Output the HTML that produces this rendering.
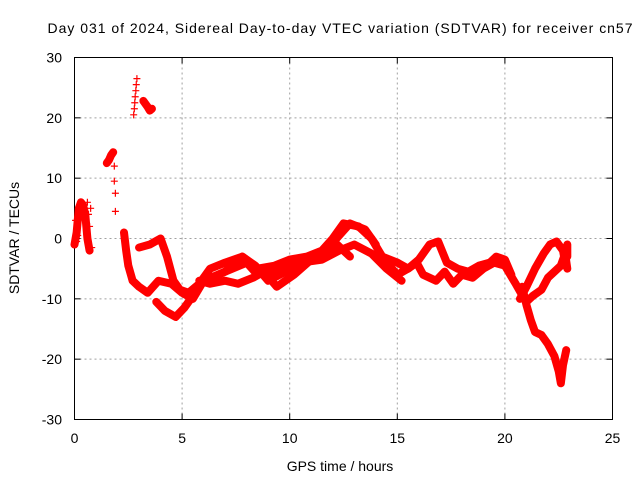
<!DOCTYPE html>
<html><head><meta charset="utf-8"><style>
html,body{margin:0;padding:0;background:#fff}
svg{display:block;font-family:"Liberation Sans",sans-serif}
</style></head><body>
<svg id="chart" width="640" height="480" viewBox="0 0 640 480">
<text x="340" y="33" text-anchor="middle" font-size="14" textLength="585">Day 031 of 2024, Sidereal Day-to-day VTEC variation (SDTVAR) for receiver cn57</text>
<g id="grid"></g>
<g id="axes"></g>
<g id="series"></g>
<text x="340" y="471" text-anchor="middle" font-size="14">GPS time / hours</text>
<text transform="translate(19,238) rotate(-90)" text-anchor="middle" font-size="14">SDTVAR / TECUs</text>
</svg>
<script>
const xTicks=[0,5,10,15,20,25];
const yTicks=[-30,-20,-10,0,10,20,30];
// each track: times (hours) and values (TECU)
const trackA_t=[0,0.1,0.2,0.3,0.4,0.5,0.55,0.6,0.65,0.7];
const trackA_v=[-1,1,5,6,5.5,4,2,0,-1,-2];
const trackA2_t=[0.05,0.1,0.15,0.6,0.65,0.7,0.75,0.8];
const trackA2_v=[3,-0.5,0.5,6,4,2,5,-1.5];
const trackB_t=[1.5,1.6,1.7,1.8];
const trackB_v=[12.5,13,13.8,14.3];
const trackB2_t=[1.85,1.85,1.9,1.9];
const trackB2_v=[12,9.5,7.5,4.5];
const trackC_t=[2.75,2.78,2.8,2.82,2.85,2.87,2.9];
const trackC_v=[20.5,21.5,22.5,23.5,24.5,25.5,26.5];
const trackD_t=[3.2,3.3,3.4,3.5,3.6];
const trackD_v=[22.8,22.3,21.8,21.2,21.5];
const trackE_t=[2.3,2.4,2.5,2.7,3.0,3.4,3.9,4.5,5.0,5.5,6.0,7.0,8.0,8.5,9.5,10.5,11.5,12.3,13,13.8,14.5,15.2];
const trackE_v=[1,-2,-4.5,-7,-8,-9,-7,-7.5,-9,-10,-7,-5.5,-4,-6,-5,-4,-3.5,-2,-1,-2.5,-5,-7];
const trackF_t=[3.0,3.5,4.0,4.3,4.6,4.9,5.3,5.8,6.3,7.0,7.8,8.5,9.3,10,10.8,11.5,12,12.5,13.2,13.8,14.3,15];
const trackF_v=[-1.5,-1,0,-3,-7,-8.5,-9,-7.5,-5,-4,-3,-5,-4.5,-3.5,-3,-2,0,2.5,2,0,-3,-4];
const trackG_t=[3.8,4.2,4.7,5.1,5.5,5.9,6.4,7.0,7.8,8.4,9,9.8,10.5,11.2,11.8,12.3,12.8,13.5,14];
const trackG_v=[-10.5,-12,-13,-11.5,-9.5,-7.5,-6.5,-5.5,-3,-4.5,-7,-5.5,-4,-3,-1.5,0.5,2.5,1.5,-1];
const trackH_t=[5.8,6.3,7,7.6,8.3,8.8,9.4,10.2,11,11.6,12.2,12.8];
const trackH_v=[-7,-7.5,-7,-7.5,-6.5,-5.5,-8,-6,-3.5,-2.5,-1,-3];
const trackI_t=[15,15.5,16,16.5,16.9,17.3,17.8,18.3,18.8,19.3,19.6,20,20.3];
const trackI_v=[-4,-5,-3.5,-1,-0.5,-4,-5,-5.5,-4.5,-4,-3,-3.5,-6];
const trackJ_t=[14.5,15,15.5,15.9,16.2,16.8,17.2,17.6,18,18.5,19,19.5,20,20.5,20.9];
const trackJ_v=[-4,-6,-5,-4,-6,-7,-5.5,-7.5,-6,-6.5,-5,-4,-4.5,-7.5,-10];
const trackK_t=[20.8,21,21.2,21.4,21.7,22,22.3,22.5,22.6,22.7,22.85];
const trackK_v=[-8,-11,-13.5,-15.5,-16,-17.5,-19.5,-22,-24,-21,-18.5];
const trackL_t=[20.7,21,21.4,21.8,22.1,22.4,22.7,22.8,22.9,22.9];
const trackL_v=[-10,-8,-5,-2.5,-1,-0.5,-2,-4,-1,-3];
const trackM_t=[21,21.3,21.7,22,22.3,22.6,22.8,22.9];
const trackM_v=[-10.5,-9.5,-8.5,-6.5,-5.5,-4.5,-2.5,-5];
const tracks=[[trackA_t,trackA_v,1],[trackA2_t,trackA2_v,0],[trackB_t,trackB_v,1],[trackB2_t,trackB2_v,0],[trackC_t,trackC_v,0],[trackD_t,trackD_v,1],[trackE_t,trackE_v,1],[trackF_t,trackF_v,1],[trackG_t,trackG_v,1],[trackH_t,trackH_v,1],[trackI_t,trackI_v,1],[trackJ_t,trackJ_v,1],[trackK_t,trackK_v,1],[trackL_t,trackL_v,1],[trackM_t,trackM_v,1]];

const L=74.5,R=612.5,T=57.5,B=419.5;
const xs=t=>L+(t-0)/(25-0)*(R-L);
const ys=v=>B-(v+30)/60*(B-T);
const NS='http://www.w3.org/2000/svg';
function mk(tag,parent,attrs){const e=document.createElementNS(NS,tag);for(const k in attrs)e.setAttribute(k,attrs[k]);parent.appendChild(e);return e;}
const grid=document.getElementById('grid'),axes=document.getElementById('axes'),ser=document.getElementById('series');
xTicks.forEach(t=>{const x=xs(t);
 if(t>0&&t<25){const g=mk('line',grid,{x1:x,x2:x,y1:T,y2:B,stroke:'#a0a0a0','stroke-dasharray':'2,3'});
 
 }
 mk('line',axes,{x1:x,x2:x,y1:B,y2:B-6,stroke:'#000'});mk('line',axes,{x1:x,x2:x,y1:T,y2:T+6,stroke:'#000'});
 const lb=mk('text',axes,{x:x,y:443,'text-anchor':'middle','font-size':'14'});lb.textContent=t;
 
 });
yTicks.forEach(v=>{const y=ys(v);
 if(v>-30&&v<30){const g=mk('line',grid,{x1:L,x2:R,y1:y,y2:y,stroke:'#a0a0a0','stroke-dasharray':'2,3'});
 
 }
 mk('line',axes,{x1:L,x2:L+6,y1:y,y2:y,stroke:'#000'});mk('line',axes,{x1:R,x2:R-6,y1:y,y2:y,stroke:'#000'});
 const lb=mk('text',axes,{x:62,y:y+5,'text-anchor':'end','font-size':'14'});lb.textContent=v;
 
 });
const fr=mk('rect',axes,{x:L,y:T,width:R-L,height:B-T,fill:'none',stroke:'#000'});


tracks.forEach(([ts,vs,line],i)=>{
 const g=mk('g',ser,{});
 
 
 if(line){mk('polyline',g,{points:ts.map((t,j)=>xs(t)+','+ys(vs[j])).join(' '),fill:'none',stroke:'#f00','stroke-width':'8','stroke-linejoin':'round','stroke-linecap':'round'});}
 ts.forEach((t,j)=>{const x=xs(t),y=ys(vs[j]);
  const p=mk('path',g,{d:`M${x-3.5},${y}h7M${x},${y-3.5}v7`,stroke:'#f00','stroke-width':'1.2'});
  
  });
});
</script>
</body></html>
